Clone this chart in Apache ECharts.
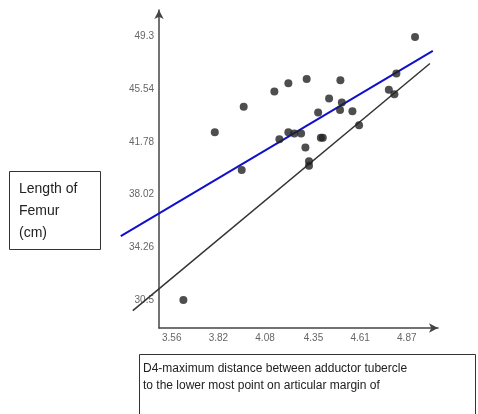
<!DOCTYPE html>
<html><head><meta charset="utf-8">
<script src="https://cdn.jsdelivr.net/npm/echarts@6/dist/echarts.min.js"></script>
<style>html,body{margin:0;padding:0;background:#fff}#c{width:478px;height:414px}</style>
</head><body><div id="c"></div>
<script>
var xTicks = [3.56, 3.82, 4.08, 4.35, 4.61, 4.87];
var yTicks = [30.5, 34.26, 38.02, 41.78, 45.54, 49.3];
var xValues = [3.625, 3.800, 3.950, 3.961, 4.132, 4.160, 4.210, 4.210, 4.243, 4.281, 4.305, 4.312, 4.325, 4.325, 4.376, 4.391, 4.402, 4.437, 4.498, 4.500, 4.508, 4.567, 4.604, 4.770, 4.801, 4.812, 4.916];
var yValues = [30.5, 42.48, 39.77, 44.29, 45.39, 41.98, 45.98, 42.48, 42.39, 42.39, 41.39, 46.28, 40.41, 40.08, 43.89, 42.08, 42.08, 44.89, 44.07, 46.19, 44.60, 43.98, 42.98, 45.50, 45.19, 46.67, 49.28];
var blueLineX = [3.276, 5.015];
var blueLineY = [35.06, 48.28];
var blackLineX = [3.343, 4.999];
var blackLineY = [29.74, 47.38];
var yTitleLines = ['Length of', 'Femur', '(cm)'];
var xTitleLines = ['D4-maximum distance between adductor tubercle', 'to the lower most point on articular margin of'];

function pairs(xs, ys){ return xs.map(function(x,i){ return [x, ys[i]]; }); }

function lineSeries(xs, ys, color, width){
  var pts = pairs(xs, ys);
  return {
    type:'custom', clip:false, z:2,
    data:[[xs[0], ys[0], xs[1], ys[1]]],
    renderItem:function(params, api){
      var p1 = api.coord([api.value(0), api.value(1)]);
      var p2 = api.coord([api.value(2), api.value(3)]);
      return {type:'line', shape:{x1:p1[0], y1:p1[1], x2:p2[0], y2:p2[1]},
        style:{stroke:color, lineWidth:width}};
    },
    encode:{x:[0,2], y:[1,3]}
  };
}

var chart = echarts.init(document.getElementById('c'), null, {renderer:'canvas'});
var axisLabelStyle = {color:'#666', fontSize:10, fontFamily:'Liberation Sans, Arial, sans-serif'};
chart.setOption({
  animation:false,
  grid:{left:159, right:40, top:10, bottom:86},
  xAxis:{type:'value', min:3.489, max:5.044, splitLine:{show:false},
    axisLine:{lineStyle:{color:'#444', width:1.5}, symbol:['none','arrow'], symbolSize:[7,9]},
    axisTick:{show:false},
    axisLabel:Object.assign({customValues:xTicks, margin:5}, axisLabelStyle)},
  yAxis:{type:'value', min:28.5, max:51.2, splitLine:{show:false},
    axisLine:{lineStyle:{color:'#444', width:1.5}, symbol:['none','arrow'], symbolSize:[7,9]},
    axisTick:{show:false},
    axisLabel:Object.assign({customValues:yTicks, margin:5, formatter:function(v){return String(v);}}, axisLabelStyle)},
  series:[
    lineSeries(blueLineX, blueLineY, '#1010cc', 2),
    lineSeries(blackLineX, blackLineY, '#333', 1.5),
    {type:'scatter', data:pairs(xValues, yValues), symbolSize:8, itemStyle:{color:'#222'}, z:3}
  ],
  graphic:[
    {type:'rect', shape:{x:9.5, y:171.5, width:91, height:78}, style:{fill:'#fff', stroke:'#333', lineWidth:1}, z:10},
    {type:'text', left:19, top:178, style:{text:yTitleLines.join('\n'), fontSize:14, lineHeight:22, fill:'#222', fontFamily:'Liberation Sans, Arial, sans-serif'}, z:11},
    {type:'rect', shape:{x:139.5, y:354.5, width:336, height:70}, style:{fill:'#fff', stroke:'#333', lineWidth:1}, z:10},
    {type:'text', left:143, top:360, style:{text:xTitleLines.join('\n'), fontSize:12, lineHeight:17, fill:'#222', fontFamily:'Liberation Sans, Arial, sans-serif'}, z:11}
  ]
});
</script></body></html>
